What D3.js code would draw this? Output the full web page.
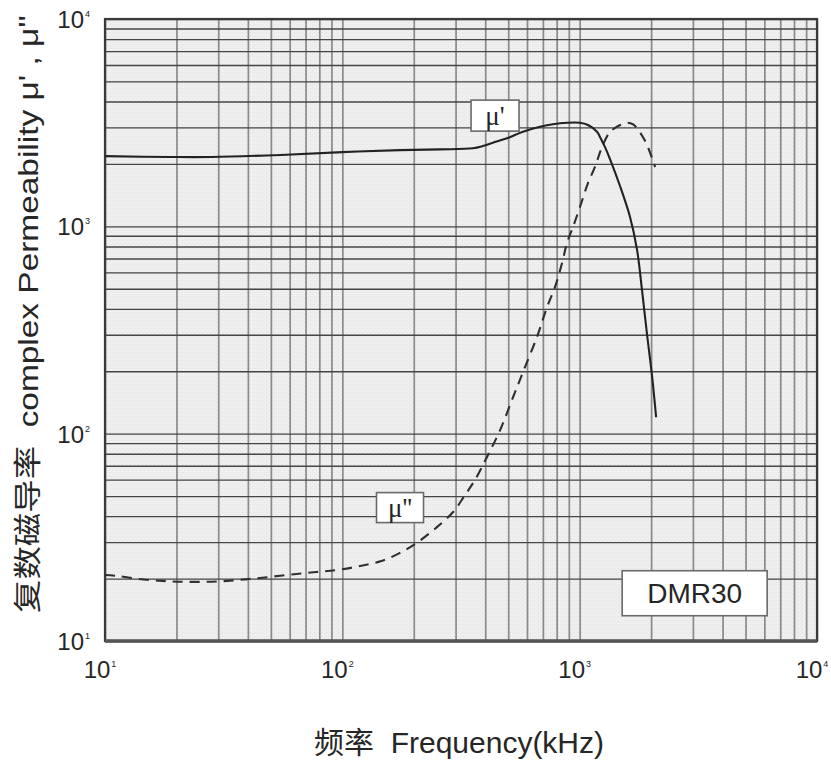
<!DOCTYPE html>
<html>
<head>
<meta charset="utf-8">
<script src="https://cdn.jsdelivr.net/npm/d3@7"></script>
<style>
  body { margin: 0; background: #fff; }
  text { font-family: "Liberation Sans", Arial, "Noto Sans CJK SC", sans-serif; fill: #262626; }
  .grid-x line { stroke: #8a8a8a; stroke-width: 1.7; }
  .grid-y line { stroke: #454545; stroke-width: 1.4; }
  .grid-x path, .grid-y path { display: none; }
</style>
</head>
<body>
<div id="chart-area"></div>
<script>
// frequency in kHz, permeability values
var muRealFreq = [10, 19, 28, 55, 100, 175, 258, 355, 391, 431, 494, 577, 681, 772, 884, 1003, 1084, 1183, 1218, 1279, 1342, 1479, 1630, 1745, 1830, 1920, 2020, 2100];
var muReal     = [2180, 2160, 2160, 2210, 2280, 2330, 2350, 2380, 2440, 2530, 2660, 2860, 3020, 3110, 3160, 3160, 3080, 2860, 2700, 2410, 2110, 1565, 1110, 770, 495, 305, 188, 120];

var muImagFreq = [10, 11.2, 13.9, 17.4, 21.1, 26.6, 32.7, 40.4, 50, 62.6, 77.5, 95, 119, 146, 175, 208, 251, 293, 329, 362, 407, 462, 524, 577, 661, 729, 787, 843, 884, 937, 1003, 1084, 1160, 1242, 1342, 1480, 1580, 1680, 1880, 2080];
var muImag     = [20.8, 20.6, 19.9, 19.5, 19.3, 19.3, 19.5, 19.9, 20.4, 21.0, 21.5, 22.0, 23.0, 24.3, 26.6, 30.0, 35.5, 41.9, 50.6, 59.8, 77.2, 104, 150, 198, 293, 408, 510, 665, 831, 992, 1240, 1618, 1933, 2413, 2851, 3080, 3160, 3100, 2600, 1930];

var decadeExps = [1, 2, 3, 4];
var curveLabels = ["μ'", "μ''"];
var materialName = "DMR30";

var margin = { left: 105, right: 14, top: 19, bottom: 125 };
var width = 831 - margin.left - margin.right,
    height = 766 - margin.top - margin.bottom;

var svg = d3.select("#chart-area")
    .append("svg")
    .attr("width", 831)
    .attr("height", 766);

// fine dotted paper texture for the plot area
var defs = svg.append("defs");
var pat = defs.append("pattern")
    .attr("id", "paper")
    .attr("width", 4).attr("height", 4)
    .attr("patternUnits", "userSpaceOnUse");
pat.append("rect").attr("width", 4).attr("height", 4).attr("fill", "#efefef");
pat.append("rect").attr("x", 1).attr("y", 1).attr("width", 1).attr("height", 1).attr("fill", "#dedede");
pat.append("rect").attr("x", 3).attr("y", 3).attr("width", 1).attr("height", 1).attr("fill", "#e4e4e4");

var g = svg.append("g")
    .attr("transform", "translate(" + margin.left + "," + margin.top + ")");

var x = d3.scaleLog().domain([10, 1e4]).range([0, width]);
var y = d3.scaleLog().domain([10, 1e4]).range([height, 0]);

g.append("rect")
    .attr("width", width)
    .attr("height", height)
    .attr("fill", "url(#paper)");

// grid lines at every 1..9 step of each decade
g.append("g")
    .attr("class", "grid-x")
    .attr("transform", "translate(0," + height + ")")
    .call(d3.axisBottom(x).tickSize(-height).tickFormat(""));

g.append("g")
    .attr("class", "grid-y")
    .call(d3.axisLeft(y).tickSize(-width).tickFormat(""));

// frame
g.append("rect")
    .attr("width", width)
    .attr("height", height)
    .attr("fill", "none")
    .attr("stroke", "#3a3a3a")
    .attr("stroke-width", 2.2);
g.append("line")
    .attr("x1", 0).attr("x2", width)
    .attr("y1", height).attr("y2", height)
    .attr("stroke", "#555").attr("stroke-width", 3.5);

// decade tick labels 10^n
function powerLabel(sel) {
    sel.append("tspan").text("10");
    sel.append("tspan")
        .attr("font-size", "9px")
        .attr("dy", "-11")
        .attr("dx", "1")
        .text(function(d) { return d; });
}

g.selectAll(".xlab")
    .data(decadeExps)
    .enter().append("text")
    .attr("class", "xlab")
    .attr("x", d => x(Math.pow(10, d)) - 5)
    .attr("y", height + 37)
    .attr("font-size", "24px")
    .attr("text-anchor", "middle")
    .call(powerLabel);

g.selectAll(".ylab")
    .data(decadeExps)
    .enter().append("text")
    .attr("class", "ylab")
    .attr("x", -15)
    .attr("y", d => y(Math.pow(10, d)) + 9)
    .attr("font-size", "24px")
    .attr("text-anchor", "end")
    .call(powerLabel);

// curves
var lineReal = d3.line()
    .x((d, i) => x(muRealFreq[i]))
    .y(d => y(d))
    .curve(d3.curveCatmullRom.alpha(0.5));

var lineImag = d3.line()
    .x((d, i) => x(muImagFreq[i]))
    .y(d => y(d))
    .curve(d3.curveCatmullRom.alpha(0.5));

g.append("path")
    .datum(muImag)
    .attr("d", lineImag)
    .attr("fill", "none")
    .attr("stroke", "#2f2f2f")
    .attr("stroke-width", 2.1)
    .attr("stroke-dasharray", "10,7");

g.append("path")
    .datum(muReal)
    .attr("d", lineReal)
    .attr("fill", "none")
    .attr("stroke", "#222")
    .attr("stroke-width", 2.1);

// boxed curve names
function boxLabel(cx, cy, w, h, txt, size, serif) {
    var b = g.append("g").attr("transform", "translate(" + cx + "," + cy + ")");
    b.append("rect")
        .attr("x", -w / 2).attr("y", -h / 2)
        .attr("width", w).attr("height", h)
        .attr("fill", "#fff")
        .attr("stroke", "#6a6a6a")
        .attr("stroke-width", 1.6);
    b.append("text")
        .attr("text-anchor", "middle")
        .attr("y", size * 0.36)
        .attr("font-size", size + "px")
        .style("font-family", serif ? "'Liberation Serif', 'DejaVu Serif', serif" : null)
        .text(txt);
}

boxLabel(x(440), y(3420), 48, 31, curveLabels[0], 27, true);
boxLabel(x(175), y(44), 47, 30, curveLabels[1], 27, true);
boxLabel(x(1000) + 115, y(17), 145, 45, materialName, 28, false);

// axis titles
svg.append("text")
    .attr("x", 459)
    .attr("y", 753)
    .attr("text-anchor", "middle")
    .attr("font-size", "30px")
    .attr("xml:space", "preserve")
    .text("频率  Frequency(kHz)");

svg.append("text")
    .attr("transform", "translate(38,314) rotate(-90)")
    .attr("text-anchor", "middle")
    .attr("font-size", "28px")
    .attr("textLength", 598)
    .attr("lengthAdjust", "spacingAndGlyphs")
    .attr("xml:space", "preserve")
    .text("复数磁导率  complex Permeability μ' , μ''");
</script>
</body>
</html>
